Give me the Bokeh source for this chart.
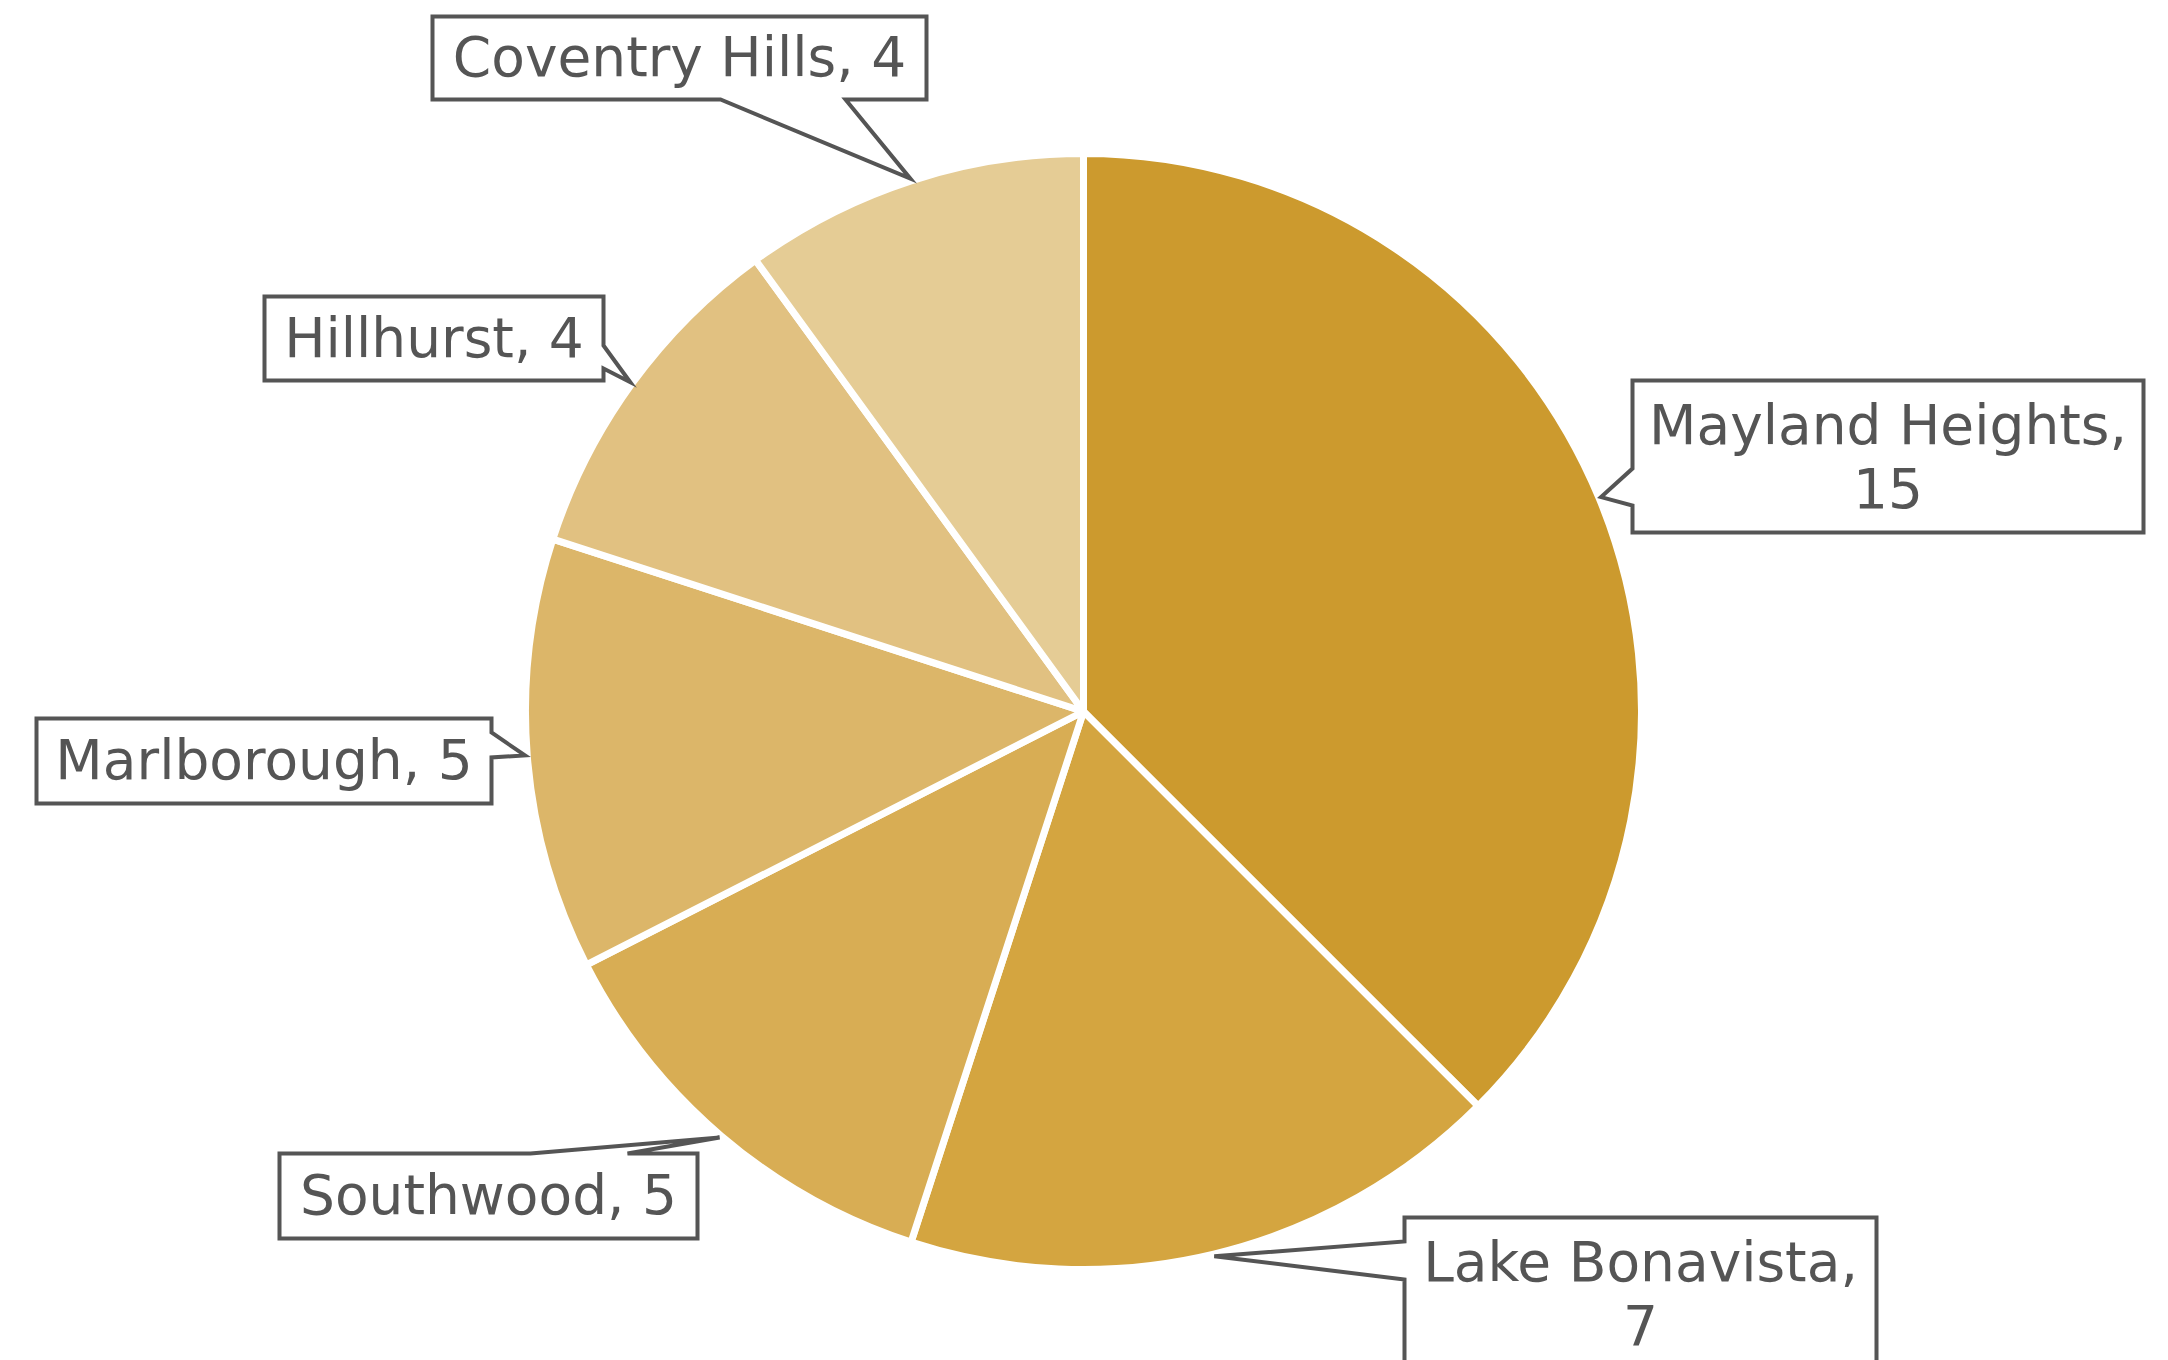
import math

from bokeh.core.properties import value
from bokeh.embed import file_html
from bokeh.models import Range1d
from bokeh.plotting import figure
from bokeh.resources import INLINE

# Listings per neighbourhood
neighbourhoods = ["Mayland Heights", "Lake Bonavista", "Southwood",
                  "Marlborough", "Hillhurst", "Coventry Hills"]
counts = [15, 7, 5, 5, 4, 4]
slice_colors = ["#CC9A2E", "#D4A540", "#D8AD54", "#DCB669", "#E1C181", "#E5CC95"]

W, H = 2168, 1360
CX, CY, R = 1083, 711, 558          # pie centre / radius in page pixels (y down)
INK = "#555555"
FONT_PX = 55

# Callout boxes: (left, top, right, bottom) in page pixels, side carrying the pointer,
# span of the pointer's base along that side, and whether the label wraps.
callouts = {
    "Mayland Heights": dict(box=(1632, 380, 2143, 532), side="left", base=(468, 505), wrap=True),
    "Lake Bonavista": dict(box=(1404, 1217, 1876, 1420), side="left", base=(1241, 1279), wrap=True),
    "Southwood": dict(box=(279, 1153, 697, 1238), side="top", base=(530, 627), wrap=False),
    "Marlborough": dict(box=(36, 718, 491, 803), side="right", base=(732, 757), wrap=False),
    "Hillhurst": dict(box=(264, 296, 603, 380), side="right", base=(345, 368), wrap=False),
    "Coventry Hills": dict(box=(432, 16, 926, 99), side="bottom", base=(720, 845), wrap=False),
}


def fy(y):
    """page pixel y (down) -> data y (up)"""
    return H - y


p = figure(width=W, height=H, output_backend="svg", toolbar_location=None,
           x_range=Range1d(0, W), y_range=Range1d(0, H),
           min_border=0, outline_line_color=None, background_fill_color="white",
           border_fill_color="white")
p.axis.visible = False
p.grid.visible = False

# Pie: starts at twelve o'clock, runs clockwise
total = sum(counts)
starts, ends, mids = [], [], []
cum = 0
for c in counts:
    a_hi = 90 - 360 * cum / total
    cum += c
    a_lo = 90 - 360 * cum / total
    starts.append(math.radians(a_lo))
    ends.append(math.radians(a_hi))
    mids.append(math.radians((a_lo + a_hi) / 2))

p.wedge(x=[CX] * len(counts), y=[fy(CY)] * len(counts), radius=R,
        start_angle=starts, end_angle=ends,
        fill_color=slice_colors, line_color="white", line_width=7)

# Callouts
xs, ys, tx, ty, labels = [], [], [], [], []
for name, c, m in zip(neighbourhoods, counts, mids):
    lay = callouts[name]
    x0, y0, x1, y1 = lay["box"]
    b0, b1 = lay["base"]
    tip = (CX + R * 1.004 * math.cos(m), CY - R * 1.004 * math.sin(m))
    pts = [(x0, y0)]
    if lay["side"] == "top":
        pts += [(b0, y0), tip, (b1, y0)]
    pts.append((x1, y0))
    if lay["side"] == "right":
        pts += [(x1, b0), tip, (x1, b1)]
    pts.append((x1, y1))
    if lay["side"] == "bottom":
        pts += [(b1, y1), tip, (b0, y1)]
    pts.append((x0, y1))
    if lay["side"] == "left":
        pts += [(x0, b1), tip, (x0, b0)]
    xs.append([q[0] for q in pts])
    ys.append([fy(q[1]) for q in pts])

    if lay["wrap"]:
        labels.append(f"{name},\n{c}")
        ty.append(fy(y0 + 76))
    else:
        labels.append(f"{name}, {c}")
        ty.append(fy((y0 + y1) / 2 - 1))
    tx.append((x0 + x1) / 2)

p.patches(xs=xs, ys=ys, fill_color="white", line_color=INK, line_width=4,
          line_join="miter")
p.text(x=tx, y=ty, text=labels, text_font=value("DejaVu Sans"),
       text_font_size=f"{FONT_PX}px", text_color=INK, text_align="center",
       text_baseline="middle", text_line_height=1.0)

open("out.html", "w").write(file_html(p, INLINE))
